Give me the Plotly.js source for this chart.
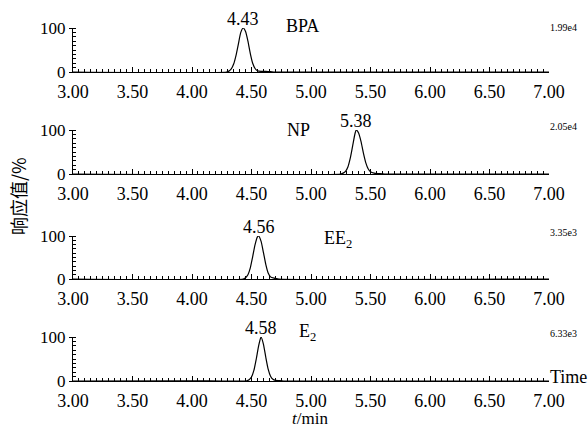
<!DOCTYPE html>
<html>
<head>
<meta charset="utf-8">
<script src="https://cdn.plot.ly/plotly-3.0.1.min.js"></script>
<style>html,body{margin:0;padding:0;background:#fff;}#chart{width:588px;height:427px;}</style>
</head>
<body>
<div id="chart"></div>
<script>
// Compound names, retention times and response scales
const compounds = ['BPA', 'NP', 'EE<sub>2</sub>', 'E<sub>2</sub>'];
const peakTimes = [4.43, 5.38, 4.56, 4.58];
const peakLabels = ['4.43', '5.38', '4.56', '4.58'];
const scales = ['1.99e4', '2.05e4', '3.35e3', '6.33e3'];
const xTickVals = [3.0, 3.5, 4.0, 4.5, 5.0, 5.5, 6.0, 6.5, 7.0];
const xTickText = ['3.00', '3.50', '4.00', '4.50', '5.00', '5.50', '6.00', '6.50', '7.00'];

// Chromatogram traces (time / min, relative response / %)
const bpaT = [3.00, 4.29, 4.31, 4.33, 4.35, 4.37, 4.39, 4.41, 4.43, 4.45, 4.47, 4.49, 4.51, 4.53, 4.55, 4.58, 4.62, 4.66, 4.70, 7.00];
const bpaY = [0, 0, 2, 7, 18, 38, 64, 90, 100, 92, 70, 42, 20, 8, 3, 1.5, 1.2, 0.8, 0, 0];
const npT = [3.00, 5.25, 5.27, 5.29, 5.31, 5.33, 5.35, 5.37, 5.38, 5.40, 5.42, 5.44, 5.46, 5.48, 5.50, 5.53, 5.57, 5.62, 7.00];
const npY = [0, 0, 2, 6, 16, 36, 64, 92, 100, 93, 74, 48, 26, 12, 5, 2, 1, 0, 0];
const ee2T = [3.00, 4.43, 4.45, 4.47, 4.49, 4.51, 4.53, 4.55, 4.56, 4.58, 4.60, 4.62, 4.64, 4.66, 4.69, 4.73, 7.00];
const ee2Y = [0, 0, 3, 10, 26, 52, 80, 98, 100, 88, 62, 34, 14, 5, 2, 0, 0];
const e2T = [3.00, 4.00, 4.46, 4.48, 4.50, 4.52, 4.54, 4.56, 4.58, 4.60, 4.62, 4.64, 4.66, 4.68, 4.70, 4.73, 4.77, 7.00];
const e2Y = [0, 0.6, 0.6, 3, 9, 24, 50, 80, 100, 84, 54, 27, 11, 4, 1.5, 0.8, 0, 0];

const series = [[bpaT, bpaY], [npT, npY], [ee2T, ee2Y], [e2T, e2Y]];

// pixel geometry helpers
const L = 73, R = 549, T = 28, B = 381;
const px = x => (x - L) / (R - L);
const py = y => (B - y) / (B - T);
const panelPx = [[28, 72], [130, 174], [236, 279], [337, 381]];

const serif = 'Liberation Serif';
const traces = [];
const layout = {
  width: 588, height: 427,
  margin: {l: L, r: 588 - R, t: T, b: 427 - B},
  paper_bgcolor: '#fff', plot_bgcolor: '#fff',
  showlegend: false,
  font: {family: serif, size: 18, color: '#000'},
  annotations: []
};

series.forEach((s, i) => {
  const n = i === 0 ? '' : String(i + 1);
  traces.push({
    x: s[0], y: s[1], type: 'scatter', mode: 'lines',
    line: {color: '#000', width: 1.2, shape: 'spline', smoothing: 0.6},
    xaxis: 'x' + n, yaxis: 'y' + n, cliponaxis: false, hoverinfo: 'skip'
  });
  layout['xaxis' + n] = {
    domain: [0, 1], anchor: 'y' + n, range: [3, 7],
    showgrid: false, zeroline: false, showline: true, linecolor: '#000', linewidth: 1,
    tickmode: 'array', tickvals: xTickVals, ticktext: xTickText,
    ticks: 'inside', ticklen: 5, tickcolor: '#000', tickwidth: 1,
    ticklabelstandoff: 3,
    tickfont: {family: serif, size: 18, color: '#000'},
    minor: {dtick: 0.05, tick0: 3, ticks: 'inside', ticklen: 3, tickcolor: '#000', tickwidth: 1, showgrid: false}
  };
  layout['yaxis' + n] = {
    domain: [py(panelPx[i][1]), py(panelPx[i][0])], anchor: 'x' + n, range: [0, 100],
    showgrid: false, zeroline: false, showline: true, linecolor: '#000', linewidth: 1,
    tickmode: 'array', tickvals: [0, 100], ticktext: ['0', '100'],
    ticks: 'outside', ticklen: 3, tickcolor: '#000', tickwidth: 1,
    tickfont: {family: serif, size: 17, color: '#000'},
    minor: {dtick: 10, tick0: 0, ticks: 'inside', ticklen: 3, tickcolor: '#000', tickwidth: 1, showgrid: false}
  };
  // peak label
  layout.annotations.push({
    x: peakTimes[i], y: 100, xref: 'x' + n, yref: 'y' + n,
    text: peakLabels[i], showarrow: false, yanchor: 'bottom', yshift: -3,
    font: {family: serif, size: 18, color: '#000'}
  });
});

// compound names
const namePos = [[302, 26], [298, 130], [338, 239], [307, 332]];
const scalePos = [[563, 27], [563, 126], [563, 232], [563, 333]];
series.forEach((s, i) => {
  layout.annotations.push({
    x: px(namePos[i][0]), y: py(namePos[i][1]), xref: 'paper', yref: 'paper',
    text: compounds[i], showarrow: false, xanchor: 'center', yanchor: 'middle',
    font: {family: serif, size: 18, color: '#000'}
  });
  layout.annotations.push({
    x: px(scalePos[i][0]), y: py(scalePos[i][1]), xref: 'paper', yref: 'paper',
    text: scales[i], showarrow: false, xanchor: 'center', yanchor: 'middle',
    font: {family: serif, size: 10, color: '#000'}
  });
});

// "Time" label, axis titles
layout.annotations.push({
  x: px(548), y: py(377), xref: 'paper', yref: 'paper', text: 'Time',
  showarrow: false, xanchor: 'left', yanchor: 'middle',
  font: {family: serif, size: 18, color: '#000'}
});
layout.annotations.push({
  x: px(310), y: py(418), xref: 'paper', yref: 'paper', text: '<i>t</i>/min',
  showarrow: false, xanchor: 'center', yanchor: 'middle',
  font: {family: serif, size: 17, color: '#000'}
});
layout.annotations.push({
  x: px(18), y: py(196), xref: 'paper', yref: 'paper', text: '响应值/%',
  showarrow: false, xanchor: 'center', yanchor: 'middle', textangle: -90,
  font: {family: 'Noto Sans CJK SC', size: 18, color: '#000'}
});

Plotly.newPlot('chart', traces, layout, {staticPlot: true});
</script>
</body>
</html>
